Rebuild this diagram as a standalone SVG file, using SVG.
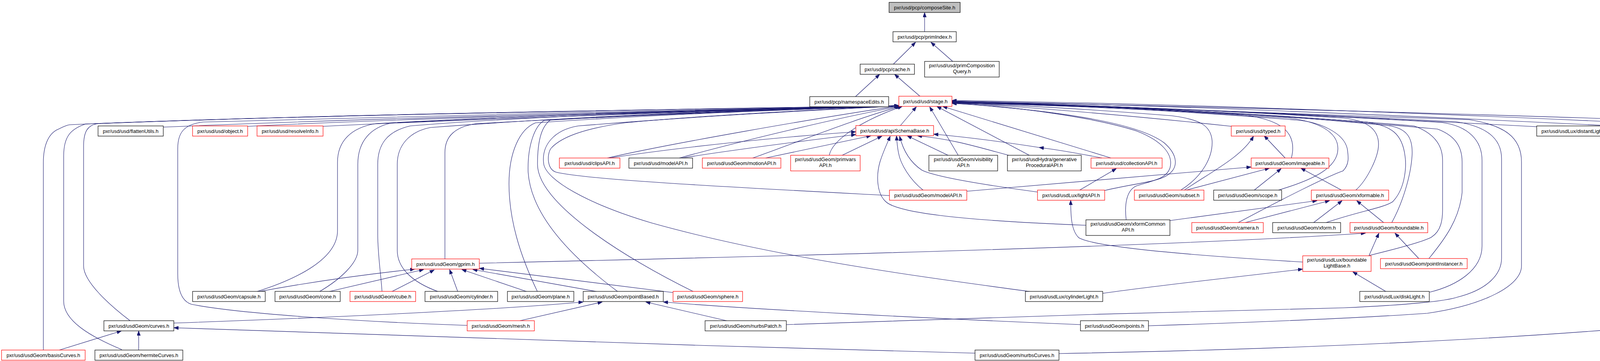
<svg xmlns="http://www.w3.org/2000/svg" width="4616" height="923" viewBox="0 0 4616 923">
<style>
.n rect{fill:#fff;stroke:#000;stroke-width:1.2}
.n.r rect{stroke:#f00}
.n.g rect{fill:#bfbfbf}
.n text{font-family:"Liberation Sans",Arial,sans-serif;font-size:13px;fill:#000;text-anchor:middle}
#edges path{fill:none;stroke:#191970;stroke-width:1.1;marker-end:url(#ah)}
</style>
<defs>
<marker id="ah" viewBox="0 0 12 9" refX="12" refY="4.5" markerWidth="12" markerHeight="9" orient="auto" markerUnits="userSpaceOnUse"><path d="M0,0L12,4.5L0,9z" fill="#191970" stroke="#191970" stroke-width="0.8"/></marker>
</defs>
<rect width="4616" height="923" fill="#fff"/>
<g id="edges">
<path d="M2367,81 L2367,32"/>
<path d="M2287,164 L2344,108"/>
<path d="M2439,157 L2383,108"/>
<path d="M2190,247 L2252,190"/>
<path d="M2355,246 L2290,190"/>
<path d="M418,325 C1000,300 1800,282 2301,270"/>
<path d="M634,323 C1100,300 1800,283 2301,270"/>
<path d="M827,323 C1300,300 1900,283 2301,270"/>
<path d="M2305,321 L2346,273"/>
<path d="M3153,323 C2900,296 2650,275 2437,262"/>
<path d="M3934,324 C3400,296 2800,268 2437,259"/>
<path d="M4151,323 C3600,295 2900,266 2437,258"/>
<path d="M4362,323 C3800,294 3000,264 2437,257"/>
<path d="M1555,404 C1700,370 2100,300 2301,271"/>
<path d="M1560,404 C1750,375 2000,350 2191,337"/>
<path d="M1739,404 C1900,360 2150,300 2303,272"/>
<path d="M1745,404 C1900,380 2100,355 2191,344"/>
<path d="M1927,404 C2050,360 2200,300 2306,272"/>
<path d="M1960,404 L2230,347"/>
<path d="M2123,397 C2130,360 2200,310 2310,272"/>
<path d="M2156,397 L2258,348"/>
<path d="M2453,397 L2380,273"/>
<path d="M2427,397 L2322,347"/>
<path d="M2635,397 L2398,272"/>
<path d="M2582,397 C2500,375 2440,356 2348,347"/>
<path d="M2844,404 L2413,272"/>
<path d="M2660,377 C2550,360 2470,350 2390,343"/>
<path d="M2821,404 C2760,392 2700,382 2660,377"/>
<path d="M3306,404 C3322,340 3285,300 3150,291 C2900,276 2600,266 2437,263"/>
<path d="M3290,404 L3236,347"/>
<path d="M2363,486 C2330,460 2305,420 2300,390 C2297,375 2296,362 2295,347"/>
<path d="M2277,500 C1900,480 1500,460 1423,440 C1400,432 1400,395 1410,380 C1440,345 1520,325 1600,314 C1800,295 2100,280 2301,271"/>
<path d="M2475,489 L3203,427"/>
<path d="M2656,491 C2500,470 2390,450 2360,435 C2330,415 2312,385 2303,348"/>
<path d="M2764,486 L2858,431"/>
<path d="M2828,487 C2900,470 2960,465 2985,450 C3020,430 3015,395 2980,365 C2920,320 2750,285 2437,264"/>
<path d="M3023,486 C3080,450 3105,400 3103,360 C3100,320 3070,305 3000,296 C2800,280 2600,268 2437,264"/>
<path d="M3032,486 C3100,440 3180,400 3209,348"/>
<path d="M3037,486 L3250,430"/>
<path d="M3211,486 L3280,431"/>
<path d="M3273,486 C3360,460 3425,430 3425,380 C3425,335 3370,310 3300,302 C3000,282 2700,268 2437,263"/>
<path d="M3434,486 L3330,430"/>
<path d="M3471,486 C3500,460 3530,400 3529,367 C3528,330 3500,308 3440,302 C3100,280 2700,266 2437,262"/>
<path d="M2780,576 C2500,565 2300,548 2267,515 C2245,495 2242,450 2253,413 C2262,385 2272,365 2279,348"/>
<path d="M2883,562 C2878,520 2885,485 2910,475 C2950,462 2985,458 2995,430 C3005,395 2975,360 2910,335 C2800,300 2600,272 2437,264"/>
<path d="M2995,564 L3372,513"/>
<path d="M3170,569 C3290,505 3400,450 3438,437 C3455,420 3452,400 3449,380 C3440,340 3380,312 3320,307 C3000,282 2700,266 2437,263"/>
<path d="M3188,569 L3404,513"/>
<path d="M3363,569 L3436,513"/>
<path d="M3395,569 C3480,540 3540,532 3565,516 C3600,480 3600,420 3597,400 C3590,340 3560,322 3500,312 C3100,283 2700,265 2437,262"/>
<path d="M3542,569 L3473,513"/>
<path d="M3563,569 C3590,520 3612,450 3615,396 C3617,350 3600,330 3560,322 C3200,285 2700,265 2437,261"/>
<path d="M1227,673 C2000,655 3000,630 3496,596"/>
<path d="M1139,662 L1139,390 C1139,348 1165,324 1220,316 C1600,295 2000,281 2301,271"/>
<path d="M3335,670 C3000,650 2800,630 2762,608 C2742,590 2741,550 2741,512"/>
<path d="M2823,750 C3000,725 3200,705 3335,688"/>
<path d="M3549,746 L3463,695"/>
<path d="M3504,655 L3530,596"/>
<path d="M3506,653 C3600,630 3650,615 3665,606 C3690,590 3693,560 3693,536 L3693,410 C3693,370 3670,340 3620,322 C3200,286 2700,265 2437,262"/>
<path d="M3633,662 L3571,596"/>
<path d="M3658,661 C3700,610 3736,560 3743,492 L3743,414 C3743,370 3720,345 3680,330 C3200,286 2700,265 2437,261"/>
<path d="M660,746 C800,720 950,700 1062,688"/>
<path d="M656,746 C765,712 864,660 864,590 L864,415 C864,360 900,326 962,316 C1400,292 1900,281 2301,271"/>
<path d="M840,746 L1085,689"/>
<path d="M817,746 C872,714 916,672 916,640 L916,420 C916,360 950,326 1000,315 C1400,292 1900,281 2301,271"/>
<path d="M1002,746 L1112,690"/>
<path d="M978,746 C975,700 967,650 967,600 L967,420 C967,370 990,336 1050,322 C1400,293 1900,281 2301,271"/>
<path d="M1172,746 L1151,689"/>
<path d="M1123,746 C1050,720 1017,682 1017,640 L1017,420 C1017,370 1050,336 1102,326 C1500,296 1900,281 2301,271"/>
<path d="M1350,746 L1182,689"/>
<path d="M1376,746 C1330,650 1303,560 1303,470 C1303,390 1330,330 1371,314 C1700,292 2000,281 2301,271"/>
<path d="M1531,746 L1210,689"/>
<path d="M1582,746 C1480,670 1360,560 1352,440 C1350,370 1370,321 1393,308 C1700,290 2000,281 2301,271"/>
<path d="M1723,748 L1227,686"/>
<path d="M1776,746 C1600,660 1376,520 1376,420 C1376,350 1390,320 1410,306 C1700,290 2000,281 2301,271"/>
<path d="M2640,746 C2400,713 2000,663 1668,570 C1500,520 1400,460 1392,420 C1385,370 1420,332 1480,322 C1800,296 2100,281 2301,271"/>
<path d="M3660,747 C3730,730 3794,690 3794,629 L3794,410 C3794,360 3760,322 3690,313 C3200,285 2700,265 2437,261"/>
<path d="M445,826 C900,810 1300,790 1493,772"/>
<path d="M333,820 C280,780 214,720 214,680 L214,374 C214,335 225,320 250,316 C900,291 1800,279 2301,271"/>
<path d="M1331,820 L1542,772"/>
<path d="M1196,832 C900,822 600,800 490,778 C465,770 455,740 455,700 L455,380 C455,340 470,318 520,312 C1000,296 1800,281 2301,271"/>
<path d="M1860,820 L1653,772"/>
<path d="M2013,830 C2400,816 3000,796 3440,787 C3600,780 3700,770 3730,760 C3810,740 3844,700 3844,660 L3844,406 C3844,350 3800,322 3726,311 C3200,285 2700,265 2437,261"/>
<path d="M2766,830 C2400,815 1900,790 1698,772"/>
<path d="M2940,833 C3200,825 3500,812 3654,801 C3800,780 3895,730 3895,680 L3895,414 C3895,350 3850,320 3761,306 C3200,283 2700,265 2437,260"/>
<path d="M152,895 L311,846"/>
<path d="M111,895 L111,416 C111,370 125,340 150,330 C160,325 170,320 178,319 C800,292 1800,279 2301,270"/>
<path d="M355,895 L355,846"/>
<path d="M312,894 C230,860 163,820 163,770 L163,399 C163,350 180,330 219,317 C900,290 1800,279 2301,270"/>
<path d="M2496,903 C1800,885 900,855 445,838"/>
<path d="M2711,904 C3200,895 4000,870 4560,800 C4595,790 4608,770 4608,750 L4608,370 C4608,335 4592,322 4560,319 C3800,290 2800,266 2437,260"/>
</g>
<g id="composeSite" class="n g"><rect x="2276" y="6" width="182" height="26"/><text x="2367" y="23.5">pxr/usd/pcp/composeSite.h</text></g>
<g id="primIndex" class="n"><rect x="2286" y="81" width="162" height="26"/><text x="2367" y="98.5">pxr/usd/pcp/primIndex.h</text></g>
<g id="cache" class="n"><rect x="2202" y="164" width="139" height="26"/><text x="2271.5" y="181.5">pxr/usd/pcp/cache.h</text></g>
<g id="primCompositionQuery" class="n"><rect x="2367" y="157" width="191" height="40"/><text x="2462.5" y="172">pxr/usd/usd/primComposition</text><text x="2462.5" y="187">Query.h</text></g>
<g id="namespaceEdits" class="n"><rect x="2073" y="247" width="202" height="26"/><text x="2174" y="264.5">pxr/usd/pcp/namespaceEdits.h</text></g>
<g id="stage" class="n r"><rect x="2301" y="246" width="136" height="26"/><text x="2369" y="263.5">pxr/usd/usd/stage.h</text></g>
<g id="flattenUtils" class="n"><rect x="251" y="322" width="167" height="26"/><text x="334.5" y="339.5">pxr/usd/usd/flattenUtils.h</text></g>
<g id="object" class="n r"><rect x="493" y="322" width="141" height="26"/><text x="563.5" y="339.5">pxr/usd/usd/object.h</text></g>
<g id="resolveInfo" class="n r"><rect x="658" y="322" width="169" height="26"/><text x="742.5" y="339.5">pxr/usd/usd/resolveInfo.h</text></g>
<g id="apiSchemaBase" class="n r"><rect x="2191" y="321" width="199" height="26"/><text x="2290.5" y="338.5">pxr/usd/usd/apiSchemaBase.h</text></g>
<g id="typed" class="n r"><rect x="3152" y="322" width="138" height="26"/><text x="3221" y="339.5">pxr/usd/usd/typed.h</text></g>
<g id="distantLight" class="n"><rect x="3934" y="322" width="193" height="26"/><text x="4030.5" y="339.5">pxr/usd/usdLux/distantLight.h</text></g>
<g id="domeLight" class="n"><rect x="4151" y="322" width="188" height="26"/><text x="4245" y="339.5">pxr/usd/usdLux/domeLight.h</text></g>
<g id="geometryLight" class="n"><rect x="4362" y="322" width="208" height="26"/><text x="4466" y="339.5">pxr/usd/usdLux/geometryLight.h</text></g>
<g id="clipsAPI" class="n r"><rect x="1432" y="404" width="155" height="26"/><text x="1509.5" y="421.5">pxr/usd/usd/clipsAPI.h</text></g>
<g id="usdModelAPI" class="n"><rect x="1610" y="404" width="163" height="26"/><text x="1691.5" y="421.5">pxr/usd/usd/modelAPI.h</text></g>
<g id="motionAPI" class="n r"><rect x="1798" y="404" width="201" height="26"/><text x="1898.5" y="421.5">pxr/usd/usdGeom/motionAPI.h</text></g>
<g id="primvarsAPI" class="n r"><rect x="2024" y="397" width="178" height="40"/><text x="2113" y="412">pxr/usd/usdGeom/primvars</text><text x="2113" y="427">API.h</text></g>
<g id="visibilityAPI" class="n"><rect x="2378" y="397" width="176" height="40"/><text x="2466" y="412">pxr/usd/usdGeom/visibility</text><text x="2466" y="427">API.h</text></g>
<g id="generativeProceduralAPI" class="n"><rect x="2579" y="397" width="189" height="40"/><text x="2673.5" y="412">pxr/usd/usdHydra/generative</text><text x="2673.5" y="427">ProceduralAPI.h</text></g>
<g id="collectionAPI" class="n r"><rect x="2793" y="404" width="182" height="26"/><text x="2884" y="421.5">pxr/usd/usd/collectionAPI.h</text></g>
<g id="imageable" class="n r"><rect x="3203" y="404" width="199" height="26"/><text x="3302.5" y="421.5">pxr/usd/usdGeom/imageable.h</text></g>
<g id="geomModelAPI" class="n r"><rect x="2277" y="486" width="198" height="26"/><text x="2376" y="503.5">pxr/usd/usdGeom/modelAPI.h</text></g>
<g id="lightAPI" class="n r"><rect x="2656" y="486" width="172" height="26"/><text x="2742" y="503.5">pxr/usd/usdLux/lightAPI.h</text></g>
<g id="subset" class="n r"><rect x="2904" y="486" width="178" height="26"/><text x="2993" y="503.5">pxr/usd/usdGeom/subset.h</text></g>
<g id="scope" class="n"><rect x="3107" y="486" width="174" height="26"/><text x="3194" y="503.5">pxr/usd/usdGeom/scope.h</text></g>
<g id="xformable" class="n r"><rect x="3357" y="486" width="198" height="26"/><text x="3456" y="503.5">pxr/usd/usdGeom/xformable.h</text></g>
<g id="xformCommonAPI" class="n"><rect x="2780" y="562" width="215" height="40"/><text x="2887.5" y="577">pxr/usd/usdGeom/xformCommon</text><text x="2887.5" y="592">API.h</text></g>
<g id="camera" class="n r"><rect x="3051" y="569" width="183" height="26"/><text x="3142.5" y="586.5">pxr/usd/usdGeom/camera.h</text></g>
<g id="xform" class="n"><rect x="3258" y="569" width="174" height="26"/><text x="3345" y="586.5">pxr/usd/usdGeom/xform.h</text></g>
<g id="boundable" class="n r"><rect x="3456" y="569" width="199" height="26"/><text x="3555.5" y="586.5">pxr/usd/usdGeom/boundable.h</text></g>
<g id="gprim" class="n r"><rect x="1054" y="662" width="173" height="26"/><text x="1140.5" y="679.5">pxr/usd/usdGeom/gprim.h</text></g>
<g id="boundableLightBase" class="n r"><rect x="3335" y="654" width="175" height="40"/><text x="3422.5" y="669">pxr/usd/usdLux/boundable</text><text x="3422.5" y="684">LightBase.h</text></g>
<g id="pointInstancer" class="n r"><rect x="3534" y="661" width="222" height="26"/><text x="3645" y="678.5">pxr/usd/usdGeom/pointInstancer.h</text></g>
<g id="capsule" class="n"><rect x="493" y="745" width="186" height="26"/><text x="586" y="762.5">pxr/usd/usdGeom/capsule.h</text></g>
<g id="cone" class="n"><rect x="704" y="745" width="167" height="26"/><text x="787.5" y="762.5">pxr/usd/usdGeom/cone.h</text></g>
<g id="cube" class="n r"><rect x="896" y="745" width="168" height="26"/><text x="980" y="762.5">pxr/usd/usdGeom/cube.h</text></g>
<g id="cylinder" class="n"><rect x="1088" y="745" width="186" height="26"/><text x="1181" y="762.5">pxr/usd/usdGeom/cylinder.h</text></g>
<g id="plane" class="n"><rect x="1299" y="745" width="170" height="26"/><text x="1384" y="762.5">pxr/usd/usdGeom/plane.h</text></g>
<g id="pointBased" class="n"><rect x="1493" y="745" width="205" height="26"/><text x="1595.5" y="762.5">pxr/usd/usdGeom/pointBased.h</text></g>
<g id="sphere" class="n r"><rect x="1723" y="745" width="178" height="26"/><text x="1812" y="762.5">pxr/usd/usdGeom/sphere.h</text></g>
<g id="cylinderLight" class="n"><rect x="2625" y="745" width="198" height="26"/><text x="2724" y="762.5">pxr/usd/usdLux/cylinderLight.h</text></g>
<g id="diskLight" class="n"><rect x="3481" y="745" width="178" height="26"/><text x="3570" y="762.5">pxr/usd/usdLux/diskLight.h</text></g>
<g id="curves" class="n"><rect x="266" y="820" width="179" height="26"/><text x="355.5" y="837.5">pxr/usd/usdGeom/curves.h</text></g>
<g id="mesh" class="n r"><rect x="1196" y="820" width="172" height="26"/><text x="1282" y="837.5">pxr/usd/usdGeom/mesh.h</text></g>
<g id="nurbsPatch" class="n"><rect x="1805" y="820" width="208" height="26"/><text x="1909" y="837.5">pxr/usd/usdGeom/nurbsPatch.h</text></g>
<g id="points" class="n"><rect x="2766" y="820" width="174" height="26"/><text x="2853" y="837.5">pxr/usd/usdGeom/points.h</text></g>
<g id="basisCurves" class="n r"><rect x="4" y="895" width="214" height="26"/><text x="111" y="912.5">pxr/usd/usdGeom/basisCurves.h</text></g>
<g id="hermiteCurves" class="n"><rect x="243" y="895" width="225" height="26"/><text x="355.5" y="912.5">pxr/usd/usdGeom/hermiteCurves.h</text></g>
<g id="nurbsCurves" class="n"><rect x="2496" y="895" width="215" height="26"/><text x="2603.5" y="912.5">pxr/usd/usdGeom/nurbsCurves.h</text></g>
</svg>
